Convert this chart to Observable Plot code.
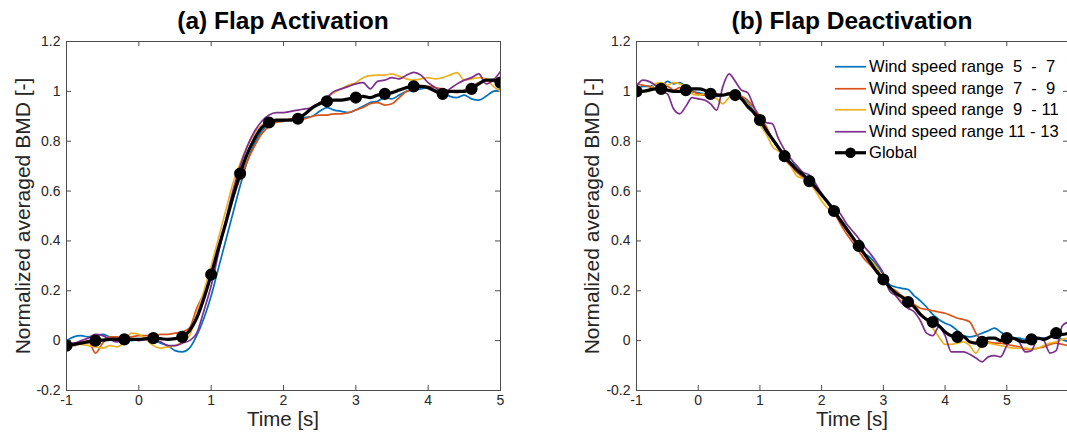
<!DOCTYPE html>
<html><head><meta charset="utf-8">
<script src="https://cdn.jsdelivr.net/npm/d3@7"></script>
<script src="https://cdn.jsdelivr.net/npm/@observablehq/plot@0.6"></script>
<style>
html,body{margin:0;padding:0;background:#fff;overflow:hidden;width:1067px;height:433px;}
#wrap{position:relative;width:1067px;height:433px;overflow:hidden;font-family:"Liberation Sans",Arial,sans-serif;color:#000;}
.panel{position:absolute;top:0;}
.title{position:absolute;top:9px;font-weight:bold;font-size:24.5px;line-height:1;white-space:nowrap;transform:translateX(-50%);}
.xlab{position:absolute;top:409px;font-size:20.5px;line-height:1;white-space:nowrap;transform:translateX(-50%);color:#262626;}
.ylab{position:absolute;font-size:21px;line-height:1;white-space:nowrap;transform:translate(-50%,-50%) rotate(-90deg);color:#262626;}
#legend{position:absolute;left:835px;top:56px;font-size:16.6px;}
#legend .row{height:21.5px;line-height:21.5px;white-space:pre;display:flex;align-items:center;}
#legend svg{flex:none;margin-right:2px;}
</style></head>
<body><div id="wrap"></div>
<script>
// ---------------- data ----------------
const seriesNames = ["Wind speed range  5  -  7", "Wind speed range  7  -  9", "Wind speed range  9  - 11", "Wind speed range 11 - 13", "Global"];
const seriesColors = ["#0072BD", "#D95319", "#EDB120", "#7E2F8E", "#000000"];
const xTicksA = [-1, 0, 1, 2, 3, 4, 5];
const xTicksB = [-1, 0, 1, 2, 3, 4, 5, 6];
const xLabelsB = [-1, 0, 1, 2, 3, 4, 5];
const yTicks = [-0.2, 0, 0.2, 0.4, 0.6, 0.8, 1, 1.2];

// time grid (s), panel (a): -1 .. 5
const timeA = [-1,-0.9,-0.8,-0.7,-0.6,-0.5,-0.4,-0.3,-0.2,-0.1,
  0,0.1,0.2,0.3,0.4,0.5,0.6,0.7,0.8,0.9,
  1,1.1,1.2,1.3,1.4,1.5,1.6,1.7,1.8,1.9,
  2,2.1,2.2,2.3,2.4,2.5,2.6,2.7,2.8,2.9,
  3,3.1,3.2,3.3,3.4,3.5,3.6,3.7,3.8,3.9,
  4,4.1,4.2,4.3,4.4,4.5,4.6,4.7,4.8,4.9,5];
// time grid (s), panel (b): -1 .. 6
const timeB = timeA.concat([5.1,5.2,5.3,5.4,5.5,5.6,5.7,5.8,5.9,6]);

// (a) Flap Activation
const actWs5_7 = [0.0,0.015,0.02,0.015,0.02,0.025,0.015,0.01,0.005,0.0,
  0.005,0.005,0.0,-0.01,-0.02,-0.04,-0.045,-0.03,0.02,0.09,
  0.18,0.29,0.40,0.51,0.62,0.72,0.79,0.84,0.87,0.88,
  0.885,0.885,0.89,0.895,0.90,0.92,0.935,0.925,0.92,0.915,
  0.925,0.94,0.955,0.96,0.975,0.97,0.985,1.0,1.005,1.01,
  1.015,1.005,0.995,0.98,0.975,0.985,0.97,0.965,0.98,1.0,1.005];
const actWs7_9 = [-0.02,-0.02,-0.01,0.0,-0.05,-0.01,0.015,0.015,0.01,0.015,
  0.02,0.02,0.02,0.025,0.025,0.03,0.035,0.05,0.13,0.19,
  0.26,0.36,0.47,0.57,0.65,0.72,0.78,0.83,0.86,0.875,
  0.88,0.89,0.885,0.89,0.90,0.905,0.905,0.91,0.91,0.915,
  0.925,0.935,0.95,0.955,0.945,0.95,0.975,1.0,1.01,1.02,
  1.02,1.015,1.01,1.0,0.995,1.005,1.02,1.035,1.045,1.04,1.035];
const actWs9_11 = [-0.02,-0.015,-0.015,-0.02,-0.025,-0.03,-0.02,-0.025,-0.005,0.03,
  0.025,0.005,-0.02,-0.03,-0.025,-0.02,-0.005,0.02,0.11,0.2,
  0.3,0.41,0.52,0.63,0.71,0.78,0.83,0.865,0.88,0.885,
  0.885,0.885,0.895,0.91,0.93,0.955,0.975,0.995,1.01,1.025,
  1.035,1.055,1.063,1.065,1.065,1.07,1.06,1.05,1.045,1.05,
  1.055,1.05,1.055,1.065,1.075,1.045,1.05,1.055,1.05,1.02,1.0];
const actWs11_13 = [-0.01,-0.01,0.0,0.01,0.025,0.02,0.005,-0.005,0.0,0.005,
  0.0,0.005,0.005,-0.005,-0.02,-0.02,-0.01,0.0,0.03,0.12,
  0.22,0.35,0.48,0.6,0.7,0.78,0.84,0.88,0.905,0.915,
  0.915,0.92,0.925,0.93,0.935,0.955,0.975,1.0,1.01,1.02,
  1.03,1.035,1.01,1.04,1.045,1.055,1.05,1.065,1.076,1.065,
  1.035,1.015,0.996,1.01,1.03,1.045,1.055,1.07,1.03,1.045,1.08];
const actGlobal = [-0.02,-0.015,-0.01,-0.005,0.0,0.002,0.005,0.005,0.005,0.005,
  0.005,0.008,0.01,0.008,0.005,0.008,0.015,0.04,0.09,0.17,
  0.265,0.37,0.47,0.575,0.67,0.75,0.81,0.855,0.875,0.885,
  0.885,0.885,0.89,0.91,0.935,0.95,0.96,0.965,0.965,0.97,
  0.975,0.98,0.975,0.985,0.99,0.995,1.005,1.015,1.02,1.02,
  1.015,1.0,0.99,1.0,1.0,1.0,1.01,1.03,1.045,1.045,1.035];

// (b) Flap Deactivation
const deaWs5_7 = [1.0,1.02,1.02,1.025,1.02,1.04,1.03,1.035,1.02,1.0,
  0.995,0.99,0.985,0.98,0.985,0.99,0.985,0.975,0.955,0.92,
  0.885,0.85,0.81,0.77,0.74,0.715,0.7,0.67,0.645,0.62,
  0.585,0.555,0.52,0.48,0.445,0.41,0.375,0.35,0.33,0.3,
  0.265,0.225,0.215,0.21,0.205,0.18,0.16,0.135,0.105,0.085,
  0.07,0.06,0.04,0.02,0.015,0.02,0.03,0.04,0.05,0.035,
  0.02,0.01,0.01,0.005,0.005,0.01,0.01,0.015,0.01,0.005,-0.005];
const deaWs7_9 = [1.03,1.025,1.02,1.01,1.015,1.02,1.005,1.015,1.01,1.0,
  0.99,0.985,0.995,0.99,0.985,0.995,0.99,0.98,0.965,0.935,
  0.9,0.86,0.81,0.77,0.73,0.7,0.675,0.655,0.635,0.61,
  0.58,0.55,0.515,0.47,0.43,0.395,0.36,0.325,0.3,0.27,
  0.245,0.215,0.2,0.18,0.165,0.145,0.13,0.125,0.12,0.115,
  0.11,0.1,0.09,0.085,0.075,0.03,0.0,-0.005,-0.01,-0.01,
  -0.015,-0.02,-0.025,-0.035,-0.035,-0.03,-0.025,-0.015,-0.01,-0.015,-0.02];
const deaWs9_11 = [1.01,1.0,1.0,1.03,1.035,1.025,1.035,1.03,1.015,0.99,
  0.985,0.99,0.98,0.97,0.95,0.975,0.985,0.97,0.95,0.91,
  0.865,0.83,0.78,0.76,0.745,0.7,0.66,0.65,0.635,0.6,
  0.56,0.53,0.51,0.485,0.44,0.41,0.37,0.34,0.32,0.29,
  0.245,0.215,0.18,0.16,0.15,0.14,0.11,0.08,0.05,0.015,
  -0.015,-0.015,-0.01,-0.005,-0.02,-0.05,-0.015,-0.01,-0.015,-0.02,
  -0.025,-0.03,-0.03,-0.03,-0.035,-0.03,-0.02,-0.01,-0.005,0.005,0.01];
const deaWs11_13 = [1.02,1.045,1.04,1.025,1.0,0.99,0.93,0.91,0.94,0.975,
  0.97,0.965,0.95,0.925,1.02,1.07,1.04,1.005,0.995,0.94,
  0.89,0.875,0.87,0.81,0.765,0.73,0.7,0.675,0.665,0.63,
  0.59,0.555,0.535,0.51,0.47,0.44,0.41,0.375,0.345,0.31,
  0.27,0.2,0.18,0.15,0.13,0.115,0.08,0.03,0.02,0.055,
  0.02,-0.045,-0.045,-0.045,-0.055,-0.07,-0.085,-0.065,-0.06,-0.065,
  -0.02,0.01,-0.005,-0.045,-0.04,0.01,0.0,-0.05,-0.04,0.06,0.075];
const deaGlobal = [1.0,1.0,1.005,1.01,1.01,1.005,1.0,1.0,1.005,1.01,
  1.01,1.005,0.99,0.985,0.985,0.99,0.985,0.97,0.94,0.915,
  0.885,0.845,0.81,0.775,0.74,0.71,0.685,0.665,0.64,0.615,
  0.585,0.555,0.52,0.485,0.45,0.415,0.38,0.345,0.31,0.275,
  0.245,0.215,0.19,0.175,0.155,0.135,0.105,0.085,0.075,0.06,
  0.035,0.02,0.015,0.015,-0.005,-0.01,-0.005,0.01,0.01,0.0,
  0.01,0.01,0.0,-0.005,0.005,0.01,0.005,0.015,0.03,0.025,0.03];

// ---------------- drawing ----------------
const fmt = d => String(Math.round(d * 10) / 10);
const AX = "#4d4d4d";

function makePanel(time, lists, globalVals, xDomain, xTicks, xLabels, width) {
  const rows = [];
  lists.forEach((vals, s) => vals.forEach((v, i) => rows.push({t: time[i], v, s})));
  const glob = globalVals.map((v, i) => ({t: time[i], v, i}));
  const plotW = width - 66 - 20, plotH = 433 - 41 - 43;
  const dx = 5 * (xDomain[1] - xDomain[0]) / plotW; // 5px inward ticks
  const dy = 5 * 1.4 / plotH;
  return Plot.plot({
    width, height: 433,
    marginLeft: 66, marginRight: 20, marginTop: 41, marginBottom: 43,
    x: {domain: xDomain},
    y: {domain: [-0.2, 1.2]},
    style: {fontFamily: "'Liberation Sans', Arial, sans-serif", fontSize: "14px", color: "#262626", background: "transparent", overflow: "visible"},
    marks: [
      Plot.axisX(xLabels, {tickSize: 0, tickPadding: 5, tickFormat: fmt, label: null}),
      Plot.axisY(yTicks, {tickSize: 0, tickPadding: 6, tickFormat: fmt, label: null}),
      Plot.ruleX(xTicks, {x: d => d, y1: -0.2, y2: -0.2 + dy, stroke: AX}),
      Plot.ruleX(xTicks, {x: d => d, y1: 1.2, y2: 1.2 - dy, stroke: AX}),
      Plot.ruleY(yTicks, {y: d => d, x1: xDomain[0], x2: xDomain[0] + dx, stroke: AX}),
      Plot.ruleY(yTicks, {y: d => d, x1: xDomain[1], x2: xDomain[1] - dx, stroke: AX}),
      Plot.line(rows, {x: "t", y: "v", z: "s", stroke: d => seriesColors[d.s], strokeWidth: 1.7, curve: "monotone-x", clip: true}),
      Plot.line(glob, {x: "t", y: "v", stroke: "#000", strokeWidth: 3.2, curve: "monotone-x", clip: true}),
      Plot.dot(glob.filter(d => d.i % 4 === 0), {x: "t", y: "v", r: 5.3, fill: "#000", stroke: "#000", clip: true}),
      Plot.frame({stroke: AX, strokeWidth: 1})
    ]
  });
}

const wrap = document.getElementById("wrap");

const pA = makePanel(timeA, [actWs5_7, actWs7_9, actWs9_11, actWs11_13], actGlobal, [-1, 5], xTicksA, xTicksA, 520);
pA.classList.add("panel"); pA.style.left = "0px";
wrap.appendChild(pA);

const pB = makePanel(timeB, [deaWs5_7, deaWs7_9, deaWs9_11, deaWs11_13], deaGlobal, [-1, 6], xTicksB, xLabelsB, 518);
pB.classList.add("panel"); pB.style.left = "570px";
wrap.appendChild(pB);

function addDiv(cls, text, left, top) {
  const d = document.createElement("div");
  d.className = cls; d.textContent = text;
  d.style.left = left + "px";
  if (top !== undefined) d.style.top = top + "px";
  wrap.appendChild(d);
}
addDiv("title", "(a) Flap Activation", 283);
addDiv("title", "(b) Flap Deactivation", 852);
addDiv("xlab", "Time [s]", 283);
addDiv("xlab", "Time [s]", 852);
addDiv("ylab", "Normalized averaged BMD [-]", 21.5, 216);
addDiv("ylab", "Normalized averaged BMD [-]", 591, 216);

// legend
const leg = document.createElement("div");
leg.id = "legend";
seriesNames.forEach((name, i) => {
  const row = document.createElement("div");
  row.className = "row";
  const isG = i === 4;
  row.innerHTML = `<svg width="32" height="21.5"><line x1="0" x2="31" y1="10.75" y2="10.75" stroke="${seriesColors[i]}" stroke-width="${isG ? 3.2 : 1.7}"/>${isG ? '<circle cx="15.5" cy="10.75" r="5.3" fill="#000"/>' : ''}</svg><span>${name}</span>`;
  leg.appendChild(row);
});
wrap.appendChild(leg);
</script>
</body></html>
